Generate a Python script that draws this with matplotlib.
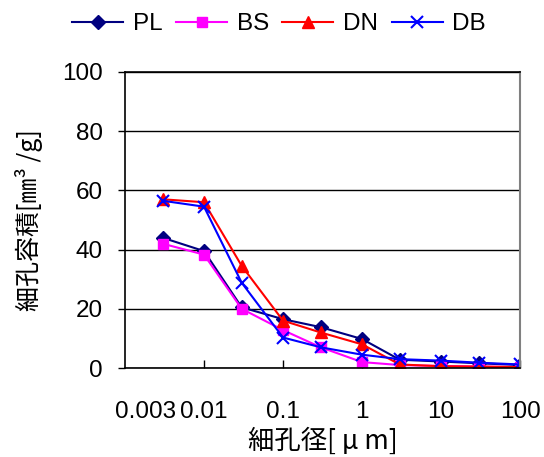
import matplotlib
matplotlib.use('Agg')
import matplotlib.pyplot as plt

# pore diameter [um]
diam = [0.003, 0.01, 0.03, 0.1, 0.3, 1, 3, 10, 30, 100]

pl = [44.0, 39.5, 20.5, 16.5, 13.8, 9.8, 2.8, 2.2, 1.6, 1.0]
bs = [42.0, 38.3, 20.0, 12.8, 7.0, 2.0, 1.0, 0.7, 0.5, 0.3]
dn = [57.0, 56.0, 34.5, 16.0, 12.0, 8.0, 1.2, 0.6, 0.5, 0.3]
db = [56.5, 54.5, 28.8, 10.3, 7.0, 4.5, 3.0, 2.5, 1.8, 1.2]

# first label is drawn left of 0.01, without a tick mark
xticks = [0.00184, 0.01, 0.1, 1, 10, 100]
xticklabels = ['0.003', '0.01', '0.1', '1', '10', '100']
yticks = [0, 20, 40, 60, 80, 100]

plt.rcParams['font.family'] = ['Liberation Sans', 'Noto Sans CJK JP', 'DejaVu Sans']

fig = plt.figure(figsize=(5.44, 4.57), dpi=100)
ax = fig.add_axes([0.2298, 0.1947, 0.7262, 0.6478])

ax.plot(diam, pl, color='#000080', marker='D', ms=7, lw=1.5, label='PL')
ax.plot(diam, bs, color='#FF00FF', marker='s', ms=7.5, lw=1.5, label='BS')
ax.plot(diam, dn, color='#FF0000', marker='^', ms=8.5, lw=1.5, label='DN')
ax.plot(diam, db, color='#0000FF', marker='x', ms=8.5, mew=1.5, lw=1.5, label='DB')

ax.set_xscale('log')
ax.set_xlim(0.001, 100)
ax.set_ylim(0, 100)
ax.set_xticks(xticks)
ax.set_xticklabels(xticklabels)
ax.xaxis.set_minor_locator(matplotlib.ticker.NullLocator())
ax.xaxis.get_major_ticks()[0].tick1line.set_visible(False)
ax.set_yticks(yticks)

ax.grid(axis='y', color='black', lw=1)
ax.set_axisbelow(True)

ax.tick_params(axis='x', direction='in', length=6, width=1, pad=24, labelsize=17.5)
ax.tick_params(axis='y', direction='out', length=5, width=1, pad=11, labelsize=17.5)

for s in ['left', 'bottom', 'top']:
    ax.spines[s].set_color('black')
    ax.spines[s].set_linewidth(1.2)
ax.spines['right'].set_color('#808080')
ax.spines['right'].set_linewidth(1.5)

ax.set_xlabel('細孔径[ μ m]', fontsize=19, family=['Noto Sans CJK JP', 'DejaVu Sans'], labelpad=3)
ax.set_ylabel('細孔容積[㎜³ /g]', fontsize=18, family=['Noto Sans CJK JP', 'DejaVu Sans'], labelpad=14)

fig.legend(loc='center', bbox_to_anchor=(0.513, 0.947), ncol=4, frameon=False,
           fontsize=17.5, handlelength=2.1, handletextpad=0.4, columnspacing=0.55)

fig.savefig('out.png', dpi=100)
